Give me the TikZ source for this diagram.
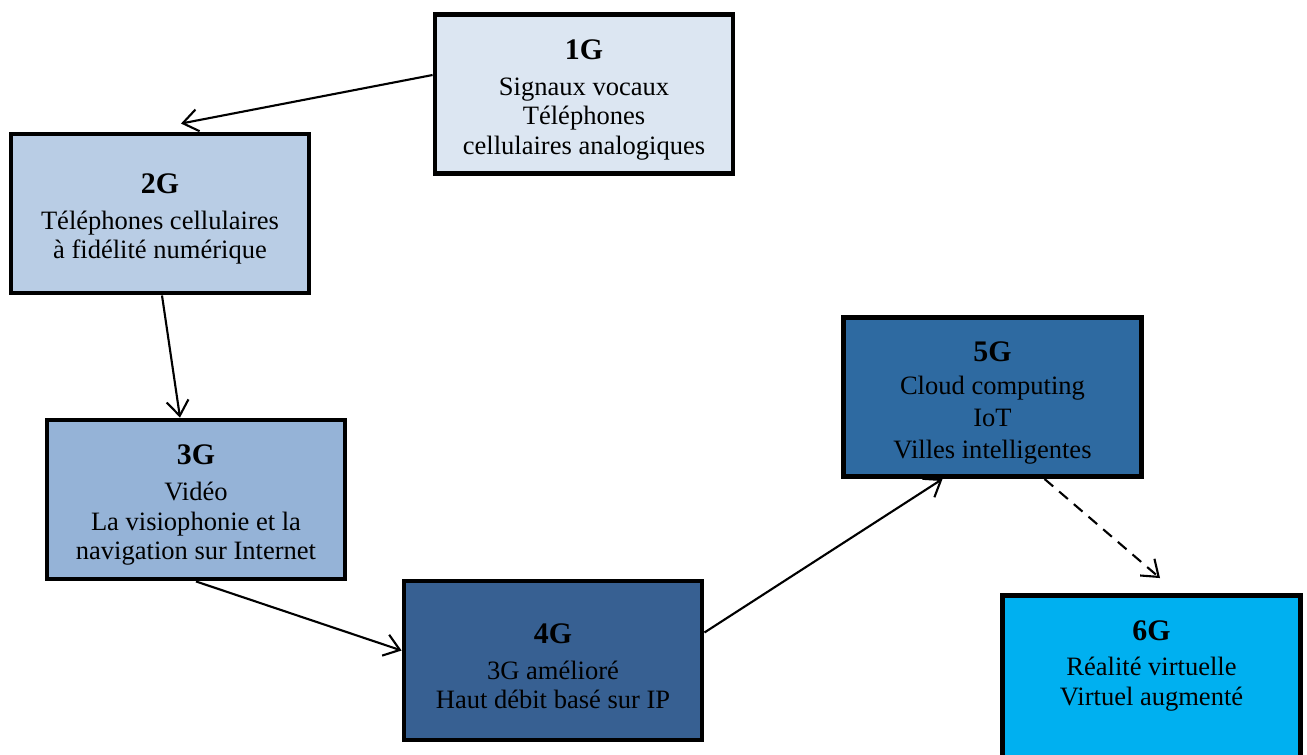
\documentclass[tikz,border=0pt]{standalone}
\usepackage{fontspec}
\setmainfont{Liberation Serif}
\usetikzlibrary{arrows.meta}
\definecolor{gA}{HTML}{DCE6F2}
\definecolor{gB}{HTML}{B9CDE5}
\definecolor{gC}{HTML}{95B3D7}
\definecolor{gD}{HTML}{376092}
\definecolor{gE}{HTML}{2E6AA1}
\definecolor{gF}{HTML}{00B0F0}
\newcommand\gtitle[1]{\rule{0pt}{17.8pt}{\fontsize{17}{19}\selectfont\bfseries #1}}
\begin{document}
\begin{tikzpicture}[x=0.02cm,y=-0.02cm,
  gbox/.style={draw=black, line width=2.8pt, minimum width=5.96cm, minimum height=3.18cm,
    align=center, inner sep=0pt, font=\fontsize{15.1}{16.8}\selectfont},
  conn/.style={line width=1.2pt, -{Straight Barb[length=3mm,width=4.4mm]}},
  dconn/.style={conn, dash pattern=on 6.5pt off 4.5pt}]
\useasboundingbox (0,0) rectangle (1307,754);
\fill[white] (0,0) rectangle (1307,754);
\node[gbox, fill=gA] (g1) at (584,94) {\gtitle{1G}\\[3.5pt]Signaux vocaux\\Téléphones\\cellulaires analogiques};
\node[gbox, fill=gB] (g2) at (160,213.5) {\gtitle{2G}\\[3.5pt]Téléphones cellulaires\\à fidélité numérique};
\node[gbox, fill=gC] (g3) at (196,499.5) {\gtitle{3G}\\[3.5pt]Vidéo\\La visiophonie et la\\navigation sur Internet};
\node[gbox, fill=gD] (g4) at (553,660.5) {\gtitle{4G}\\[3.5pt]3G amélioré\\Haut débit basé sur IP};
\node[gbox, fill=gE] (g5) at (992.5,397) {\gtitle{5G}\\[2pt]Cloud computing\\[1.5pt]IoT\\[1.5pt]Villes intelligentes};
\node[gbox, fill=gF, minimum height=3.44cm] (g6) at (1151.5,681.5) {\gtitle{6G}\\[3.5pt]Réalité virtuelle\\Virtuel augmenté\\[11pt]\mbox{}};
\coordinate (t2) at ([xshift=0.42cm,yshift=0.16cm]g2.north);
\coordinate (t6) at ([xshift=0.17cm,yshift=0.3cm]g6.north);
\draw[conn] ([yshift=0.38cm]g1.west) -- (t2);
\draw[conn] ([xshift=0.04cm]g2.south) -- ([xshift=-0.32cm]g3.north);
\draw[conn] (g3.south) -- ([yshift=0.2cm]g4.west);
\draw[conn] ([yshift=0.56cm]g4.east) -- ([xshift=-1cm]g5.south);
\draw[dconn] ([xshift=1.04cm]g5.south) -- (t6);
\end{tikzpicture}
\end{document}
